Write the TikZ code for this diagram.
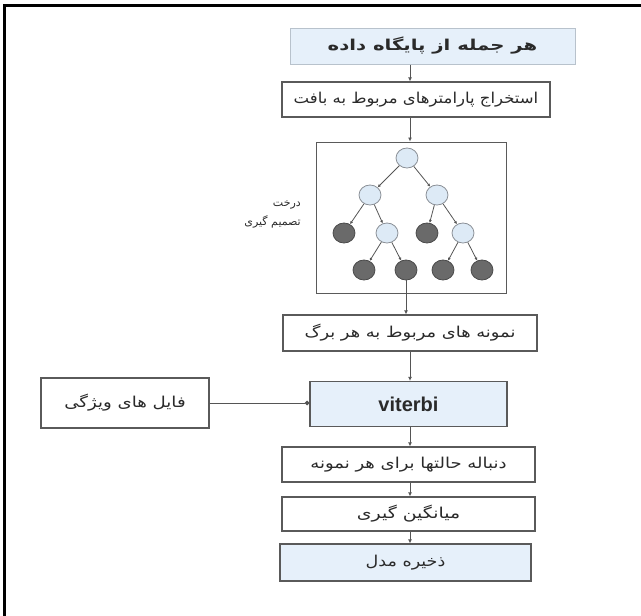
\documentclass[tikz,border=0pt]{standalone}
\usepackage{fontspec}
\setmainfont{Liberation Sans}
\newfontfamily\fa[Script=Arabic]{DejaVu Sans}
\TeXXeTstate=1
\usetikzlibrary{arrows.meta,shapes.geometric}
\definecolor{boxblue}{HTML}{E6F0FA}
\definecolor{edgegray}{HTML}{5A5A5A}
\definecolor{lightedge}{HTML}{B8C2CC}
\definecolor{linegray}{HTML}{555555}
\definecolor{textgray}{HTML}{2A2A2A}
\definecolor{circlight}{HTML}{DDEAF6}
\definecolor{circedge}{HTML}{8A8F96}
\definecolor{circdark}{HTML}{6A6A6A}
\definecolor{darkedge}{HTML}{4A4A4A}
\newcommand{\fas}[1]{\fa\addfontfeatures{FakeStretch=#1}}
\tikzset{
 pbox/.style={draw=edgegray, line width=1.3pt, fill=white, inner sep=0pt,
   font=\fontsize{15}{18}\selectfont, text=textgray},
 bluebox/.style={pbox, fill=boxblue},
 flow/.style={draw=linegray, line width=0.9pt, -{Latex[length=4pt,width=4pt]}},
 dotflow/.style={draw=linegray, line width=0.9pt, -{Circle[length=4.5pt]}},
 lnode/.style={ellipse, draw=circedge, fill=circlight, minimum width=22pt,
   minimum height=20pt, inner sep=0pt, line width=0.8pt},
 dnode/.style={lnode, draw=darkedge, fill=circdark},
 tedge/.style={draw=linegray, line width=0.8pt, -{Latex[length=3pt,width=3pt]}},
}
\begin{document}
\begin{tikzpicture}[x=1pt,y=-1pt]
\useasboundingbox (0,0) rectangle (641,616);
% outer frame
\draw[line width=3pt] (4,616) -- (4,5) -- (641,5);
\coordinate (col) at (410,0);
% boxes
\node[bluebox, draw=lightedge, line width=1pt, minimum width=285pt, minimum height=36pt,
  font=\bfseries\fontsize{15}{18}\selectfont] (b1) at (432.5,46) {\fas{1.31}\beginR هر جمله از پایگاه داده\endR};
\node[pbox, minimum width=268pt, minimum height=35pt] (b2) at (416,99.5) {\fas{1.10}\beginR استخراج پارامترهای مربوط به بافت\endR};
\node[draw=edgegray, line width=1pt, minimum width=190pt, minimum height=151pt] (tb) at (411,217.5) {};
\node[pbox, minimum width=254pt, minimum height=36pt] (b3) at (410,333) {\fas{1.19}\beginR نمونه های مربوط به هر برگ\endR};
\node[bluebox, minimum width=197pt, minimum height=45pt,
  font=\bfseries\fontsize{20}{24}\selectfont] (vit) at (408.5,404) {viterbi};
\node[pbox, minimum width=168pt, minimum height=50pt] (feat) at (125,403) {\fas{1.21}\beginR فایل های ویژگی\endR};
\node[pbox, minimum width=253pt, minimum height=35pt] (b5) at (408.5,464.5) {\fas{1.20}\beginR دنباله حالتها برای هر نمونه\endR};
\node[pbox, minimum width=253pt, minimum height=34pt] (b6) at (408.5,514) {\fas{1.26}\beginR میانگین گیری\endR};
\node[bluebox, minimum width=251pt, minimum height=37pt] (b7) at (405.5,562.5) {\fas{1.17}\beginR ذخیره مدل\endR};
% tree label
\node[anchor=east, align=right, inner sep=0pt, font=\fa\fontsize{11}{19}\selectfont, text=textgray] (tl) at (301,214)
  {\beginR درخت\endR\\ \beginR تصمیم گیری\endR};
% tree
\node[lnode] (r) at (407,158) {};
\node[lnode] (a) at (370,195) {};
\node[lnode] (b) at (437,195) {};
\node[dnode] (c1) at (344,233) {};
\node[lnode] (c2) at (387,233) {};
\node[dnode] (c3) at (427,233) {};
\node[lnode] (c4) at (463,233) {};
\node[dnode] (d1) at (364,270) {};
\node[dnode] (d2) at (406,270) {};
\node[dnode] (d3) at (443,270) {};
\node[dnode] (d4) at (482,270) {};
\draw[tedge] (r) -- (a);
\draw[tedge] (r) -- (b);
\draw[tedge] (a) -- (c1);
\draw[tedge] (a) -- (c2);
\draw[tedge] (b) -- (c3);
\draw[tedge] (b) -- (c4);
\draw[tedge] (c2) -- (d1);
\draw[tedge] (c2) -- (d2);
\draw[tedge] (c4) -- (d3);
\draw[tedge] (c4) -- (d4);
% flow
\draw[flow] (b1.south -| col) -- (b2.north -| col);
\draw[flow] (b2.south -| col) -- (tb.north -| col);
\draw[flow] (d2.south) -- (d2.south |- b3.north);
\draw[flow] (b3.south -| col) -- (vit.north -| col);
\draw[dotflow] (feat.east) -- (feat.east -| vit.west);
\draw[flow] (vit.south -| col) -- (b5.north -| col);
\draw[flow] (b5.south -| col) -- (b6.north -| col);
\draw[flow] (b6.south -| col) -- (b7.north -| col);
\end{tikzpicture}
\end{document}
